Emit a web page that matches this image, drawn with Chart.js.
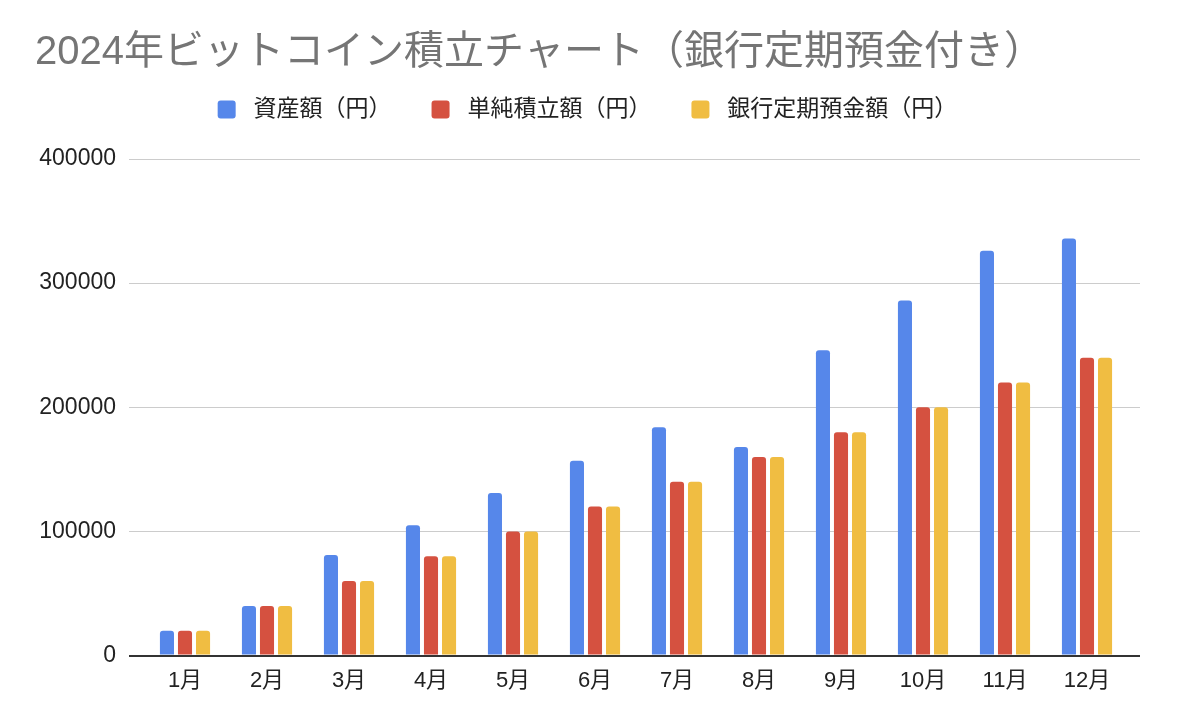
<!DOCTYPE html>
<html>
<head>
<meta charset="utf-8">
<script src="https://cdn.jsdelivr.net/npm/chart.js@4"></script>
<style>
  html, body { margin: 0; padding: 0; background: #fff; }
  #wrap { width: 1178px; height: 728px; }
</style>
</head>
<body>
<div id="wrap"><canvas id="btcChart"></canvas></div>
<script>
var months = ['1月', '2月', '3月', '4月', '5月', '6月', '7月', '8月', '9月', '10月', '11月', '12月'];
var assetValues = [20000, 40000, 81000, 105000, 131000, 157000, 184000, 168000, 246000, 286000, 326000, 336000];
var simpleValues = [20000, 40000, 60000, 80000, 100000, 120000, 140000, 160000, 180000, 200000, 220000, 240000];
var bankValues = [20000, 40000, 60000, 80000, 100000, 120000, 140000, 160000, 180000, 200000, 220000, 240000];
var yTicks = [0, 100000, 200000, 300000, 400000];

var FONT = "'Liberation Sans', 'Noto Sans CJK JP', sans-serif";
Chart.defaults.font.family = FONT;

function gridColor(c) { return c.tick && c.tick.value === 0 ? '#333333' : '#cccccc'; }
function gridWidth(c) { return c.tick && c.tick.value === 0 ? 2 : 1; }

// make the legend block taller so the plot starts lower
var legendSpace = {
    id: 'legendSpace',
    beforeInit: function (chart) {
        var fit = chart.legend.fit;
        chart.legend.fit = function () {
            fit.bind(chart.legend)();
            this.height = 101;
        };
    }
};

var ctx = document.getElementById('btcChart').getContext('2d');
var btcChart = new Chart(ctx, {
    type: 'bar',
    data: {
        labels: months,
        datasets: [{
            label: '資産額（円）',
            data: assetValues,
            backgroundColor: '#5687EA'
        }, {
            label: '単純積立額（円）',
            data: simpleValues,
            backgroundColor: '#D55140'
        }, {
            label: '銀行定期預金額（円）',
            data: bankValues,
            backgroundColor: '#F0BD42'
        }]
    },
    options: {
        responsive: true,
        maintainAspectRatio: false,
        animation: false,
        layout: { padding: { left: 35, right: 38, top: 0, bottom: 22 } },
        datasets: {
            bar: {
                categoryPercentage: 0.66,
                barPercentage: 0.78,
                borderRadius: 3
            }
        },
        plugins: {
            title: {
                display: true,
                text: '2024年ビットコイン積立チャート（銀行定期預金付き）',
                align: 'start',
                color: '#757575',
                font: { size: 40, weight: 'normal', family: FONT },
                padding: { top: 29, bottom: -19 }
            },
            legend: {
                labels: {
                    color: '#222222',
                    font: { size: 23, family: FONT },
                    boxWidth: 18,
                    boxHeight: 18,
                    useBorderRadius: true,
                    borderRadius: 3,
                    padding: 40,
                    generateLabels: function (chart) {
                        var items = Chart.defaults.plugins.legend.labels.generateLabels(chart);
                        items.forEach(function (it) { it.text = ' ' + it.text; });
                        return items;
                    }
                }
            },
            tooltip: { enabled: false }
        },
        scales: {
            x: {
                grid: { display: false, drawTicks: false },
                border: { display: false },
                ticks: { color: '#222222', font: { size: 22 }, padding: 12 }
            },
            y: {
                min: 0,
                max: 400000,
                afterBuildTicks: function (s) { s.ticks = yTicks.map(function (v) { return { value: v }; }); },
                afterFit: function (s) { s.width = 109; },
                border: { display: false },
                grid: {
                    color: gridColor,
                    lineWidth: gridWidth,
                    tickColor: gridColor,
                    tickWidth: gridWidth,
                    tickLength: 15
                },
                ticks: {
                    color: '#222222',
                    font: { size: 23 },
                    padding: 13,
                    callback: function (v) { return String(v); }
                }
            },
            y2: {
                position: 'right',
                min: 0,
                max: 400000,
                afterBuildTicks: function (s) { s.ticks = yTicks.map(function (v) { return { value: v }; }); },
                afterFit: function (s) { s.width = 12; },
                border: { display: false },
                grid: {
                    drawOnChartArea: false,
                    color: gridColor,
                    lineWidth: gridWidth,
                    tickColor: gridColor,
                    tickWidth: gridWidth,
                    tickLength: 12
                },
                ticks: { display: false }
            }
        }
    },
    plugins: [legendSpace]
});
</script>
</body>
</html>
